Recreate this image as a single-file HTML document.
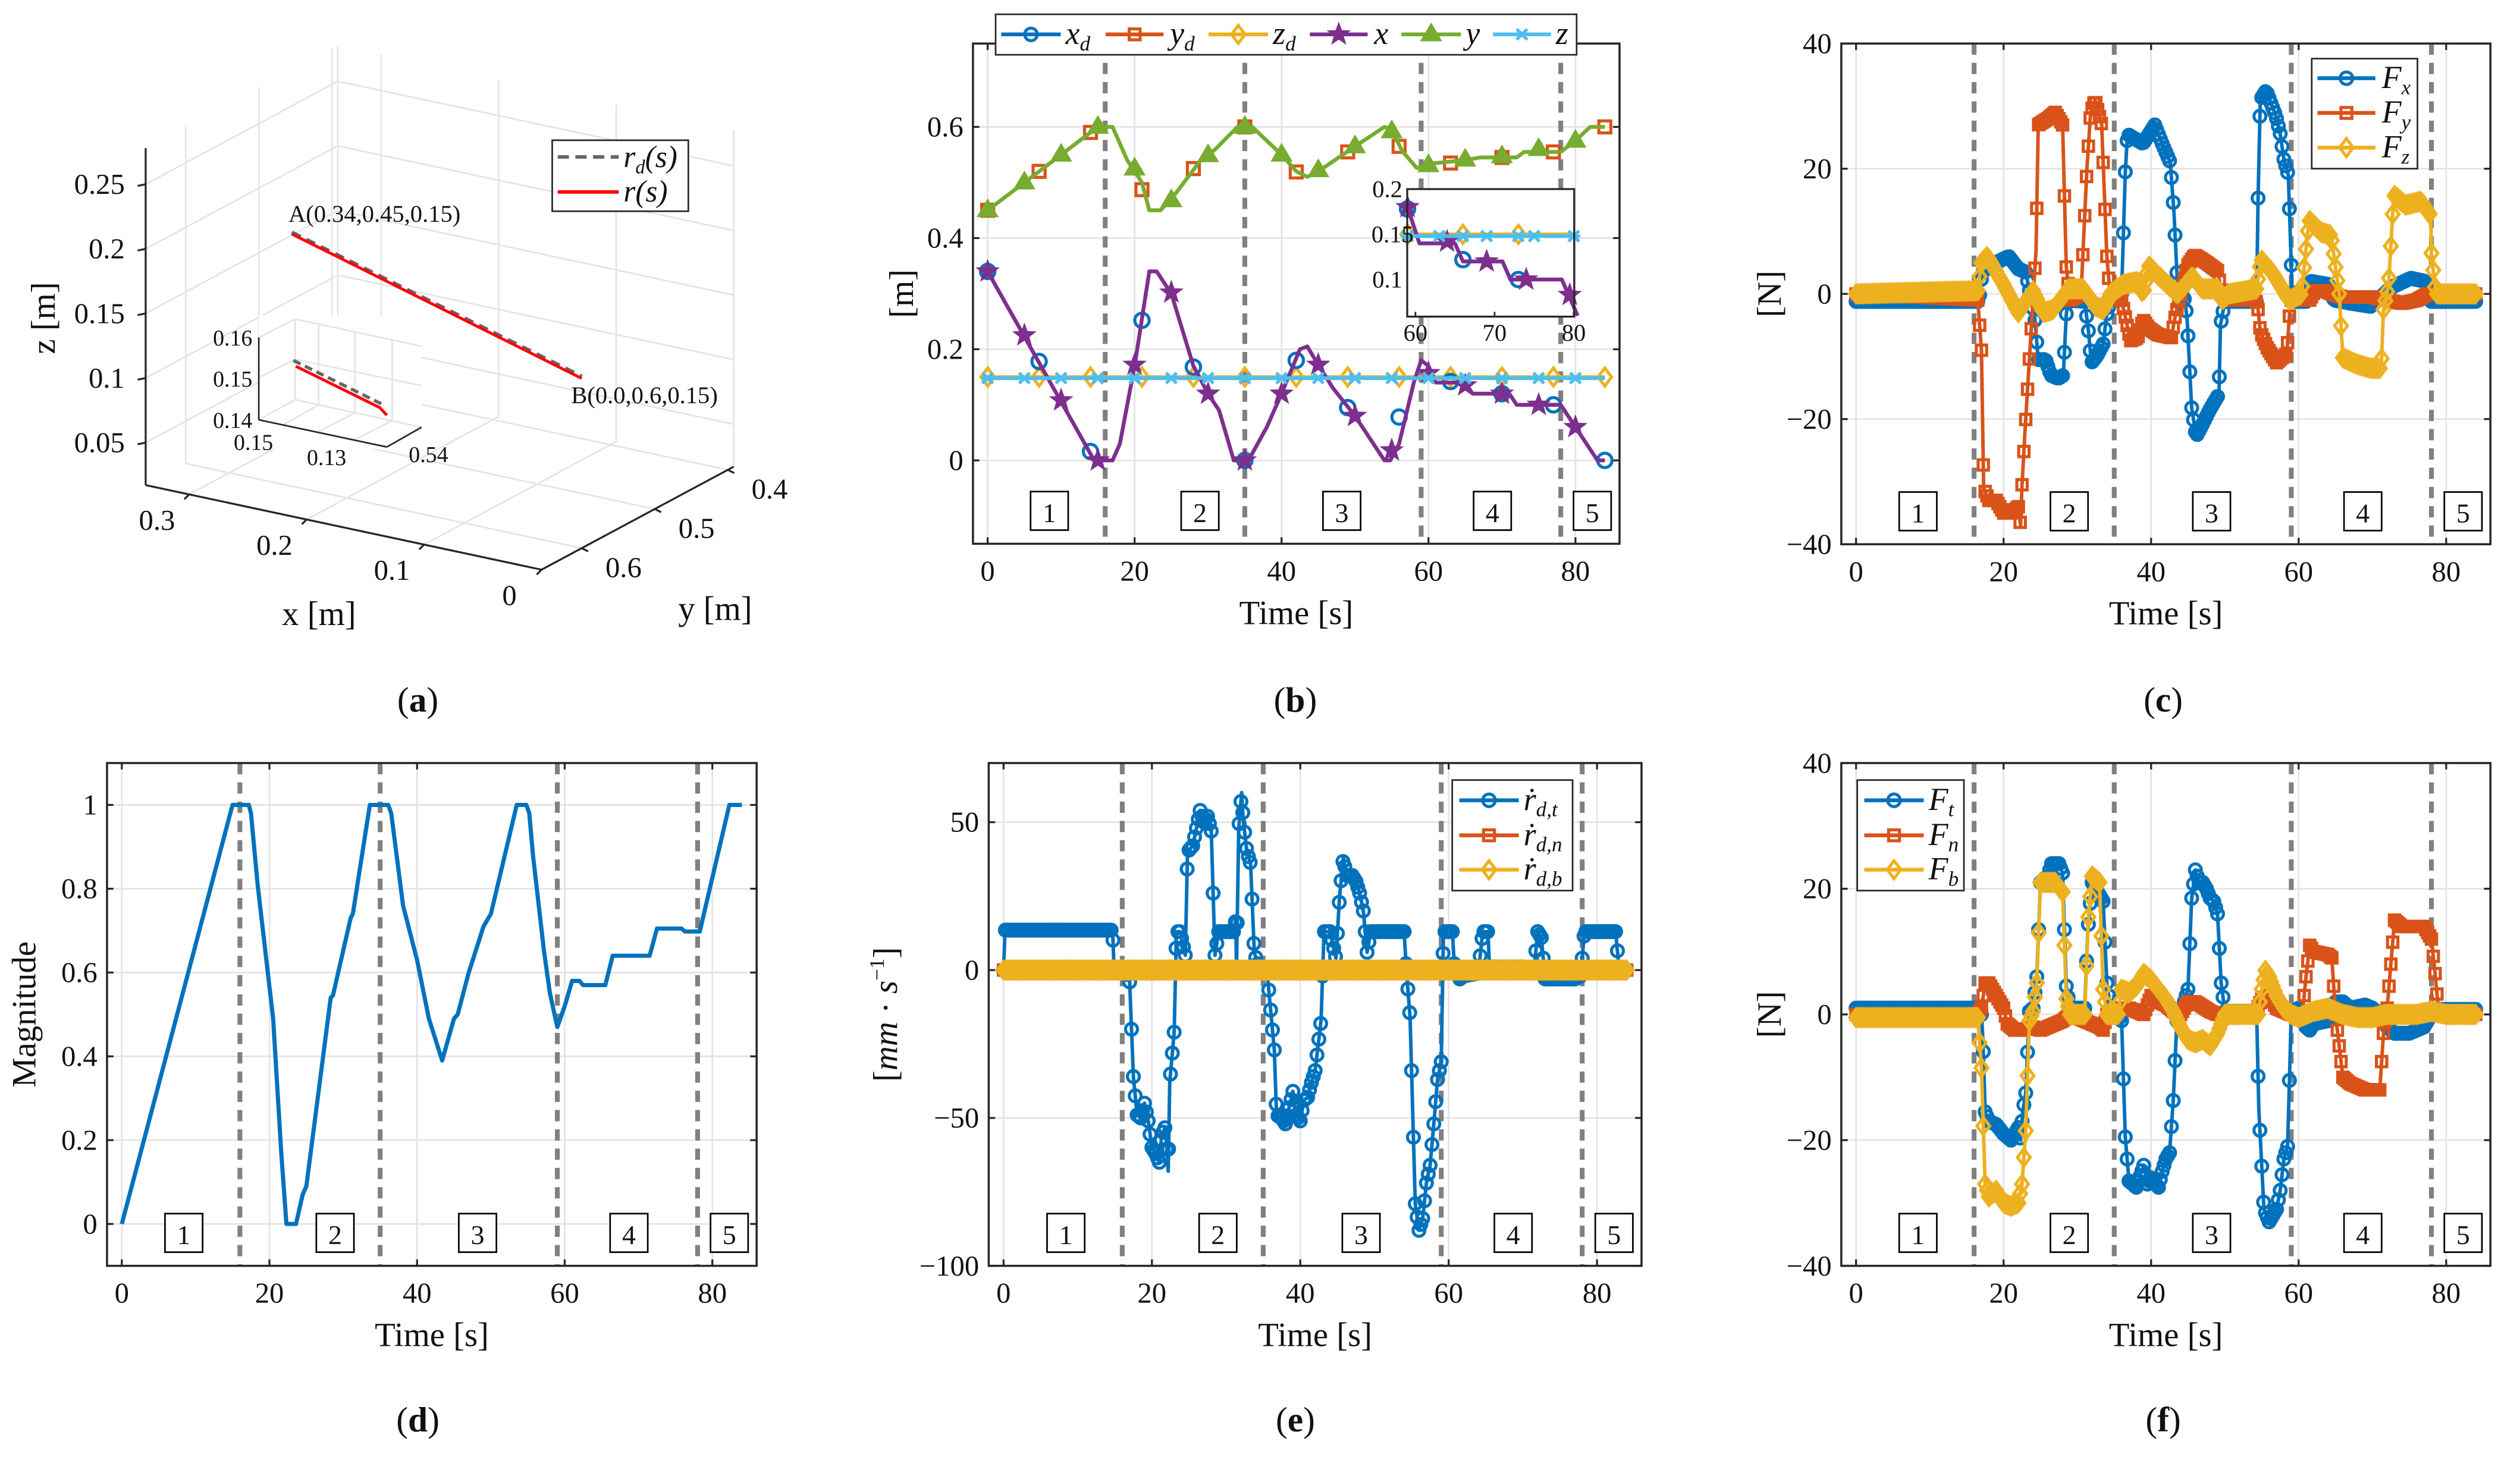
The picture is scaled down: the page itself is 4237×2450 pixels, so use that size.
<!DOCTYPE html>
<html><head><meta charset="utf-8"><title>Trajectory and force figure</title>
<style>html,body{margin:0;padding:0;background:#fff}svg{display:block}</style></head>
<body>
<svg id="fig" xmlns="http://www.w3.org/2000/svg" width="4237" height="2450" viewBox="0 0 1568 907" preserveAspectRatio="none" font-family="Liberation Serif, DejaVu Serif, serif">
<rect width="1568" height="907" fill="#fff"/>
</svg>
<script>
// ---------- data: panel b ----------
const phaseT=[16,35,59,78];
const phaseLabelT=[8.4,28.9,48.2,68.7,82.3];
const phaseLabels=['1','2','3','4','5'];
const xTicks=[0,20,40,60,80];
const bMarkT7=[0,7,14,21,28,35,42,49,56,63,70,77,84];
const xdV=[0.34,0.178,0.016,0.252,0.168,0,0.18,0.095,0.078,0.142,0.12,0.1,0];
const ydV=[0.45,0.52,0.59,0.487,0.525,0.6,0.519,0.555,0.565,0.535,0.545,0.555,0.6];
const zdV=[0.15,0.15,0.15,0.15,0.15,0.15,0.15,0.15,0.15,0.15,0.15,0.15,0.15];
const bMarkT5=[0,5,10,15,20,25,30,35,40,45,50,55,60,65,70,75,80];
const xMarkV=[0.34,0.225,0.108,0,0.172,0.302,0.12,0,0.12,0.172,0.08,0.018,0.157,0.135,0.12,0.1,0.06];
const yMarkV=[0.45,0.5,0.55,0.6,0.525,0.468,0.549,0.6,0.55,0.522,0.565,0.592,0.531,0.541,0.547,0.56,0.575];
const zMarkV=[0.148,0.148,0.148,0.148,0.148,0.148,0.148,0.148,0.148,0.148,0.148,0.148,0.148,0.148,0.148,0.148,0.148];
const xLine=[[0,0.34],[14.5,0],[17,0],[18,0.03],[20,0.17],[22,0.34],[23,0.34],[25,0.3],[28,0.17],[30,0.12],[31.5,0.09],[33.5,0],[35.5,0],[38,0.06],[40,0.12],[42.5,0.2],[43.5,0.205],[45,0.172],[47,0.13],[50,0.08],[54,0],[54.8,0],[56,0.03],[58,0.14],[59,0.18],[60,0.17],[61,0.14],[65,0.14],[66,0.12],[71,0.12],[72,0.1],[78,0.1],[80,0.06],[83,0],[84,0]];
const yLine=[[0,0.45],[15,0.6],[17,0.6],[19,0.54],[21,0.5],[22,0.45],[23.5,0.45],[25,0.47],[29,0.54],[31,0.56],[34,0.6],[36,0.6],[40,0.55],[42,0.52],[43.5,0.51],[45,0.52],[50,0.565],[54,0.6],[55,0.595],[56.4,0.557],[58.4,0.526],[59.5,0.53],[61,0.535],[65,0.54],[67,0.545],[72,0.545],[73,0.555],[78,0.555],[80,0.575],[82,0.6],[84,0.6]];
const zLine=[[0,0.148],[84,0.148]];
const zdLine=[[0,0.15],[84,0.15]];
const insetX=[[59,0.18],[60.5,0.14],[62,0.14],[65,0.14],[66,0.12],[71,0.12],[72,0.1],[78.5,0.1],[80.5,0.06]];
const insetStar=[[59,0.18],[64,0.142],[69,0.12],[74,0.1],[79.5,0.083]];
const insetXd=[[59,0.178],[66,0.122],[73,0.1]];
const insetZd=[[59,0.15],[66,0.15],[73,0.15]];
const insetZ=[[59,0.148],[63,0.148],[66,0.148],[69,0.148],[73,0.148],[75,0.148],[80,0.148]];
// ---------- panel c ----------
const fxData=[[0,-1.2],[16.5,-1.2],[16.8,0],[17.1,3.5],[19,5],[20.7,6],[22,4],[23,3.5],[24.2,-3.5],[24.7,-10.5],[25.7,-10.5],[26.4,-13],[27.4,-13.5],[28.1,-13],[28.5,-3.2],[28.8,-1],[31,-1.2],[31.5,-5.9],[31.9,-11],[32.6,-10],[33.5,-8],[34,-3.2],[34.5,-1],[35.5,-1],[36,0],[36.5,19.5],[36.8,25.5],[38.9,24],[40.5,27],[41.5,24],[42.6,21],[43.1,13],[43.6,1],[44.6,-1],[44.9,-4.4],[45.5,-18.2],[46.1,-22.8],[46.9,-21],[47.9,-18.6],[49.2,-16],[49.4,-5],[50,-1.2],[54.3,-1.2],[54.5,15.3],[54.8,31],[55.6,32.5],[56.4,30],[56.9,28.5],[57.5,25.6],[58,21.5],[58.6,19],[59.1,1],[59.5,-1.2],[61.2,-1.2],[61.7,2],[64.1,1.5],[64.8,-1],[67.1,-1.5],[69.8,-2],[72.5,1],[75.2,2.5],[77.2,2],[77.9,-1.2],[84,-1.2]];
const fyData=[[0,0],[16.5,-1],[17,-9],[17.3,-31],[18,-33],[19,-33],[20,-35],[21,-35],[22,-34],[22.3,-37],[22.5,-30.5],[22.9,-22],[24.4,7],[24.7,27],[26,28],[27,29],[28,27],[28.5,4.3],[29,-1],[30.5,0],[31.3,20],[31.8,29],[32.4,31],[33.3,27],[34,6],[34.5,-1],[36,-1],[36.6,-4.2],[37.2,-7.5],[38.2,-7],[38.9,-4.1],[39.7,-5.5],[40.9,-6.5],[42.8,-7],[43.1,-4.5],[44.9,4.5],[45.9,6.2],[47.5,5],[49,3.7],[49.6,0],[50.5,-1],[54.2,-1],[54.5,-2.5],[54.8,-6],[55.7,-8.5],[57,-11],[58.4,-9.5],[58.9,-1],[60.5,-1],[61.5,-1],[62.2,0.5],[63.5,0.5],[64.5,0],[66,-0.5],[70,-0.5],[72,-1],[74,-1.5],[76,-1],[77.5,0],[84,0]];
const fzData=[[0,0],[16.5,0.5],[17,5],[17.8,6],[20,1.5],[22,-3],[24,0.5],[25.4,-3],[26.7,-2.5],[28.8,0.8],[30.8,0.8],[32.5,-2],[33.5,-2.5],[34.5,0],[36.2,1.5],[38.2,2],[38.9,0],[39.7,4.5],[40.9,3],[43.6,0],[45.6,2.8],[46.9,0.8],[49,0.8],[49.6,-1],[50.5,0],[54.3,0.8],[54.9,5.5],[56.4,3.5],[58.7,-1],[60.4,0],[60.9,6],[61.4,11.8],[63.1,9.8],[64.4,9.4],[65.5,0],[66,-10.2],[67.8,-11.2],[69.8,-11.9],[71.2,-11.9],[71.5,-2.5],[72.2,1.5],[72.9,15.8],[74.5,14.2],[76.6,14.8],[77.9,12.5],[78,6.5],[78.6,0],[84,0]];
// ---------- panel d ----------
const magData=[[0,0],[15,1],[17.2,1],[17.5,0.98],[18.4,0.81],[20.5,0.49],[21.6,0.17],[22.3,0],[23.6,0],[24.5,0.07],[25,0.09],[28.3,0.54],[28.6,0.545],[31,0.73],[31.3,0.74],[33.6,1],[36.1,1],[36.5,0.98],[38.1,0.76],[40,0.63],[41.6,0.49],[43.4,0.39],[45,0.49],[45.5,0.5],[47,0.6],[49,0.71],[50,0.74],[53.5,1],[54.8,1],[55.2,0.98],[55.7,0.88],[57.2,0.65],[58,0.55],[59,0.47],[60,0.52],[61,0.58],[62,0.58],[62.5,0.57],[65.5,0.57],[66.5,0.64],[71.5,0.64],[72.5,0.705],[75.8,0.705],[76.3,0.698],[78.3,0.698],[82.3,1],[84,1]];
// ---------- panel e ----------
const rdtData=[[0,0],[0.2,13.5],[14.7,13.5],[14.9,0],[16.6,0],[17,-4],[17.5,-36],[18,-49],[18.5,-50],[19,-45],[19.5,-51],[20,-60],[20.5,-62],[21,-65],[21.3,-56],[21.8,-53],[22.2,-68],[22.4,-38],[23,-21],[23.3,13],[23.8,13],[24.5,5],[24.8,40],[25.5,42],[26,48],[26.5,54],[27,50],[27.5,52],[28,47],[28.5,5],[29,13],[31,13],[31.3,17],[31.4,0],[31.7,48],[32.1,60],[32.3,51],[32.8,40],[33.3,36],[33.8,6],[34.5,0],[35.5,0],[36.5,-27],[36.8,-49],[37.5,-50],[38,-52],[39,-41],[39.3,-48],[40,-51],[40.5,-44],[41,-43],[41.5,-38],[42,-34],[42.8,-17],[43.2,13],[44,13],[44.8,4],[45.3,25],[45.8,38],[46.2,32],[47,32],[47.5,30],[48,26],[48.5,20],[49,6],[49.5,13],[54,13],[54.3,0],[54.8,-16],[55.5,-79],[56,-88],[56.5,-84],[57,-72],[57.5,-66],[58,-52],[58.5,-37],[59,-31],[59.3,13],[60.5,13],[60.8,0],[61.5,-3],[62,-2],[64,-1],[64.6,13],[65.3,13],[65.5,1],[70,1],[71.5,0],[72,13],[72.5,11],[73,-3],[77,-3],[77.8,-2],[78.3,13],[82.5,13],[83,0],[84,0]];
const rdnData=[[0,0],[84,0]];
const rdbData=[[0,0],[84,0]];
// ---------- panel f ----------
const ftData=[[0,1],[16.5,1],[17,0],[17.2,-4],[17.5,-15.5],[18,-17],[19,-17.5],[20,-19],[21,-20],[21.5,-19],[22,-18],[22.3,-20],[22.6,-15.5],[23,-12.5],[23.5,0.5],[24,1],[24.5,6],[25,21],[26,22],[26.5,24],[27.5,24],[28,22.5],[28.5,4.5],[29,1],[31,1],[31.4,13],[32,21],[33,19],[33.5,18],[34,5],[34.5,1],[35.5,0],[36,-1],[36.5,-19.5],[37,-26.5],[38,-27.5],[39,-24],[39.5,-27],[40,-26],[41,-27.5],[41.5,-25],[42,-23],[42.5,-22],[43,-13.7],[43.5,-1],[44,0],[45,4],[45.5,18.5],[46,23],[46.5,21],[47,21],[47.5,20],[48,18.5],[48.5,18],[49,16],[49.5,5],[50,0.5],[54.3,0.5],[54.6,-15],[55.3,-31],[56,-33],[56.5,-32],[57,-31],[57.5,-28],[58,-23],[58.5,-21],[59,0],[60,1],[61,-2],[61.5,-2.5],[62,-1.5],[64,-1],[65,2],[66,2],[67,1],[69,1.5],[70,1],[71,0],[72,-2],[73,-3],[75,-3],[77,-2],[78,0],[79,0.8],[84,0.8]];
const fnData=[[0,0],[16.5,0],[17,1],[17.5,5],[18,5],[19,3],[20,1],[20.5,-1.5],[21.5,-2.5],[22.5,-2.5],[24,-2],[25,-2.5],[26,-2],[27,-1.5],[28,-1],[29,0],[31,-1],[32,-1.5],[33,-2],[33.5,-2.5],[34,0],[36,1],[37,1],[38,0.5],[39,0],[40,3],[41,2],[42,1.5],[43,0.5],[44,0],[45,2],[46,2],[48,0.5],[49,0],[54,0],[55,2.5],[56,3],[57,1],[58,0.5],[59,0],[60.5,0],[61,6],[61.5,11],[62,10],[64,9.5],[64.5,9],[65,0],[66,-10],[67,-11],[69,-12],[71,-12],[71.5,-3],[72,1],[73,15],[74,14],[77,14],[78,12],[78.5,6.5],[79,0],[84,0]];
const fbData=[[0,-0.5],[16.5,-0.5],[17,-8.5],[17.5,-27],[18,-29],[19,-28],[20,-30],[21,-30.5],[22,-30],[22.5,-27],[23,-18.5],[23.5,-1],[24,0.5],[24.5,5],[25,21],[26,21],[27,21],[28,19.5],[28.5,2.5],[29,0],[31,0],[31.5,15.5],[32,22],[33,21],[33.5,4],[34,0],[35.5,0],[36,4],[37,3.5],[38,4.5],[39,6.5],[40,5.5],[41,4],[42,2.5],[43,0.5],[44,-2],[45,-4],[46,-4.5],[47,-4],[48,-5],[49,-3],[50,0],[54.5,0],[55,4],[55.5,7],[56,6],[57,3],[58,1],[59,0],[60,-0.5],[62,0.5],[64,1],[66,0],[68,-0.5],[70,-0.5],[72,0],[76,0],[78,0.5],[80,0],[84,0]];
// ---------- panel a (3D) ----------
const pointA=[0.34,0.45,0.15];
const pointB=[0.0,0.6,0.15];
const aXTicks=[0.3,0.2,0.1,0];
const aYTicks=[0.6,0.5,0.4];
const aZTicks=[0.05,0.1,0.15,0.2,0.25];
const aZTickLabels=['0.05','0.1','0.15','0.2','0.25'];
const insetRd=[[0.1442,0.1562],[0.1158,0.150]];
const insetR=[[0.1434,0.1549],[0.1172,0.1492],[0.115,0.1477]];

// ---------- helpers ----------
const NS='http://www.w3.org/2000/svg';
const svg=document.getElementById('fig');
const C={blue:'#0072BD',red:'#D95319',yel:'#EDB120',pur:'#7E2F8E',grn:'#77AC30',cyan:'#4DBEEE',ax:'#262626',grid:'#e3e3e3',dash:'#808080'};
function mk(tag,attrs,parent){const e=document.createElementNS(NS,tag);for(const k in attrs)e.setAttribute(k,attrs[k]);(parent||svg).appendChild(e);return e;}
function nm(e,n,inter){
  
  
  return e;
}
function txt(s,x,y,size,anchor,parent,extra){const t=mk('text',Object.assign({x:x,y:y,'font-size':size,'text-anchor':anchor||'middle',fill:'#111'},extra||{}),parent);t.innerHTML=s;return t;}
function lin(d0,d1,r0,r1){return v=>r0+(v-d0)*(r1-r0)/(d1-d0);}
function interp(D,t){for(let i=0;i<D.length-1;i++){if(t>=D[i][0]&&t<=D[i+1][0]){const a=D[i],b=D[i+1];return b[0]===a[0]?a[1]:a[1]+(b[1]-a[1])*(t-a[0])/(b[0]-a[0]);}}return D[D.length-1][1];}
const MW=1.9;
function marker(g,type,x,y,col,s){
  s=s||1;let e;
  if(type==='o')e=mk('circle',{cx:x,cy:y,r:3.9*s,fill:'none',stroke:col,'stroke-width':MW},g);
  else if(type==='s')e=mk('rect',{x:x-3.4*s,y:y-3.4*s,width:6.8*s,height:6.8*s,fill:'none',stroke:col,'stroke-width':MW},g);
  else if(type==='d')e=mk('path',{d:`M${x},${y-5.6*s}L${x+4.2*s},${y}L${x},${y+5.6*s}L${x-4.2*s},${y}Z`,fill:'none',stroke:col,'stroke-width':MW},g);
  else if(type==='^')e=mk('path',{d:`M${x},${y-6.4*s}L${x+6*s},${y+3.8*s}L${x-6*s},${y+3.8*s}Z`,fill:col,stroke:col,'stroke-width':1},g);
  else if(type==='p'){let d='';for(let i=0;i<10;i++){const r=i%2?2.8*s:6.8*s,a=-Math.PI/2+i*Math.PI/5;d+=(i?'L':'M')+(x+r*Math.cos(a)).toFixed(2)+','+(y+r*Math.sin(a)).toFixed(2);}e=mk('path',{d:d+'Z',fill:col,stroke:col,'stroke-width':0.8},g);}
  else if(type==='x'){const r=3.3*s;e=mk('path',{d:`M${x-r},${y-r}L${x+r},${y+r}M${x-r},${y+r}L${x+r},${y-r}M${x-r*1.2},${y}L${x+r*1.2},${y}`,stroke:col,'stroke-width':2,fill:'none'},g);}
  return e;
}
function line(g,D,sx,sy,col,w){return mk('polyline',{points:D.map(p=>sx(p[0]).toFixed(2)+','+sy(p[1]).toFixed(2)).join(' '),fill:'none',stroke:col,'stroke-width':w||2.2,'stroke-linejoin':'round'},g);}

function axes(id,P){
  const g=nm(mk('g',{}),id+'-panel');
  const sx=lin(P.xlim[0],P.xlim[1],P.x0,P.x1), sy=lin(P.ylim[0],P.ylim[1],P.y1,P.y0);
  const gg=nm(mk('g',{stroke:C.grid,'stroke-width':1},g),id+'-grid');
  xTicks.forEach(t=>{const l=mk('line',{x1:sx(t),x2:sx(t),y1:P.y0,y2:P.y1},gg);nm(l,id+'-x-gridline');});
  P.yticks.forEach(v=>{const l=mk('line',{x1:P.x0,x2:P.x1,y1:sy(v),y2:sy(v)},gg);nm(l,id+'-y-gridline');});
  const tk=nm(mk('g',{stroke:C.ax,'stroke-width':1.2},g),id+'-ticks');
  xTicks.forEach(t=>{mk('line',{x1:sx(t),x2:sx(t),y1:P.y1,y2:P.y1-4},tk);mk('line',{x1:sx(t),x2:sx(t),y1:P.y0,y2:P.y0+4},tk);
    const l=txt(String(t),sx(t),P.y1+23,18,'middle',g);nm(l,id+'-x-tick-label');});
  P.yticks.forEach((v,i)=>{mk('line',{x1:P.x0,x2:P.x0+4,y1:sy(v),y2:sy(v)},tk);mk('line',{x1:P.x1,x2:P.x1-4,y1:sy(v),y2:sy(v)},tk);
    const l=txt(P.ylabels[i],P.x0-6,sy(v)+6,18,'end',g);nm(l,id+'-y-tick-label');});
  const xl=txt('Time [s]',(P.x0+P.x1)/2,P.y1+50,21,'middle',g);nm(xl,id+'-x-axis-title');
  const yl=txt(P.ytitle,P.ylx,(P.y0+P.y1)/2,21,'middle',g,{transform:`rotate(-90 ${P.ylx} ${(P.y0+P.y1)/2})`});nm(yl,id+'-y-axis-title');
  const dg=nm(mk('g',{stroke:C.dash,'stroke-width':3,'stroke-dasharray':'7,5'},g),id+'-phase-dividers');
  phaseT.forEach(t=>{const l=mk('line',{x1:sx(t),x2:sx(t),y1:P.y0,y2:P.y1},dg);nm(l,id+'-phase-divider');});
  phaseLabelT.forEach((t,i)=>{const r=mk('rect',{x:sx(t)-11.7,y:P.y1-32.5,width:23.4,height:24,fill:'#fff',stroke:'#000','stroke-width':1},g);nm(r,id+'-phase-box');
    const l=txt(phaseLabels[i],sx(t),P.y1-13.5,17,'middle',g);nm(l,id+'-phase-label');});
  const cap=txt(`(<tspan font-weight="bold">${P.cap}</tspan>)`,P.capx,P.capy,22,'middle',g);nm(cap,id+'-caption');
  const series=nm(mk('g',{},g),id+'-series');
  const box=mk('rect',{x:P.x0,y:P.y0,width:P.x1-P.x0,height:P.y1-P.y0,fill:'none',stroke:C.ax,'stroke-width':1.3},g);nm(box,id+'-axes-box');
  return {g,sx,sy,series};
}
function denseSeries(A,D,type,col,name,step){
  const g=nm(mk('g',{},A.series),name);
  line(g,D,A.sx,A.sy,col,2.2);
  for(let t=D[0][0];t<=D[D.length-1][0]+1e-9;t+=step){marker(g,type,A.sx(t),A.sy(interp(D,t)),col,0.95);}
}
function legend(P,items,id){
  const g=nm(mk('g',{},svg),id+'-legend');
  const r=mk('rect',{x:P.x,y:P.y,width:P.w,height:P.h,fill:'#fff',stroke:C.ax,'stroke-width':1},g);nm(r,id+'-legend-box');
  items.forEach(it=>{const e=nm(mk('g',{},g),id+'-legend-entry');
    mk('line',{x1:it.lx1,x2:it.lx2,y1:it.y,y2:it.y,stroke:it.col,'stroke-width':2.4},e);
    marker(e,it.m,(it.lx1+it.lx2)/2,it.y,it.col,1);
    txt(it.label,it.tx,it.y+6,20,'start',e,{'font-style':'italic'});});
}

// ---------- panel b ----------
const Ab=axes('b',{x0:605.4,x1:1007.7,y0:27.1,y1:338.5,xlim:[-2,86],ylim:[-0.15,0.75],yticks:[0,0.2,0.4,0.6],ylabels:['0','0.2','0.4','0.6'],ytitle:'[m]',ylx:568,cap:'b',capx:806,capy:443});
{const g=nm(mk('g',{},Ab.series),'zd-series');line(g,zdLine,Ab.sx,Ab.sy,C.yel,2.2);bMarkT7.forEach((t,i)=>marker(g,'d',Ab.sx(t),Ab.sy(zdV[i]),C.yel));}
{const g=nm(mk('g',{},Ab.series),'xd-series');bMarkT7.forEach((t,i)=>marker(g,'o',Ab.sx(t),Ab.sy(xdV[i]),C.blue,1.15));}
{const g=nm(mk('g',{},Ab.series),'yd-series');bMarkT7.forEach((t,i)=>marker(g,'s',Ab.sx(t),Ab.sy(ydV[i]),C.red,1.1));}
{const g=nm(mk('g',{},Ab.series),'x-series');line(g,xLine,Ab.sx,Ab.sy,C.pur,2.4);bMarkT5.forEach((t,i)=>marker(g,'p',Ab.sx(t),Ab.sy(xMarkV[i]),C.pur));}
{const g=nm(mk('g',{},Ab.series),'y-series');line(g,yLine,Ab.sx,Ab.sy,C.grn,2.4);bMarkT5.forEach((t,i)=>marker(g,'^',Ab.sx(t),Ab.sy(yMarkV[i]),C.grn));}
{const g=nm(mk('g',{},Ab.series),'z-series');line(g,zLine,Ab.sx,Ab.sy,C.cyan,2.4);bMarkT5.forEach((t,i)=>marker(g,'x',Ab.sx(t),Ab.sy(zMarkV[i]),C.cyan));}
// inset b
{const g=nm(mk('g',{},svg),'b-inset');
 const I={x0:875.6,x1:979.5,y0:117.7,y1:197.1};
 const sx=lin(58.96,80.06,I.x0,I.x1), sy=lin(0.059,0.2,I.y1,I.y0);
 const bg=mk('rect',{x:I.x0,y:I.y0,width:I.x1-I.x0,height:I.y1-I.y0,fill:'#fff'},g);nm(bg,'b-inset-background');
 const s=nm(mk('g',{},g),'b-inset-series');
 line(s,[[59,0.15],[80,0.15]],sx,sy,C.yel,2.2);insetZd.forEach(p=>marker(s,'d',sx(p[0]),sy(p[1]),C.yel));
 insetXd.forEach(p=>marker(s,'o',sx(p[0]),sy(p[1]),C.blue,1.15));
 line(s,insetX,sx,sy,C.pur,2.4);insetStar.forEach(p=>marker(s,'p',sx(p[0]),sy(p[1]),C.pur));
 line(s,[[59,0.148],[80,0.148]],sx,sy,C.cyan,2.4);insetZ.forEach(p=>marker(s,'x',sx(p[0]),sy(p[1]),C.cyan));
 const cl=mk('rect',{x:I.x0,y:I.y0,width:I.x1-I.x0,height:I.y1-I.y0,fill:'none',stroke:C.ax,'stroke-width':1.2},g);nm(cl,'b-inset-box');
 [60,70,80].forEach(t=>{const l=txt(String(t),sx(t),I.y1+15,15,'middle',g);nm(l,'b-inset-x-tick-label');mk('line',{x1:sx(t),x2:sx(t),y1:I.y1,y2:I.y1-3,stroke:C.ax},g);});
 [[0.2,'0.2'],[0.15,'0.15'],[0.1,'0.1']].forEach(p=>{const l=txt(p[1],I.x0+(p[0]===0.15?4:-3),sy(p[0])+5,15,'end',g);nm(l,'b-inset-y-tick-label');});
}
legend({x:619.5,y:8.9,w:361.5,h:25.2},[
 {lx1:623,lx2:660,y:21.4,col:C.blue,m:'o',tx:663,label:'x<tspan font-size="13" dy="4">d</tspan>'},
 {lx1:688,lx2:724,y:21.4,col:C.red,m:'s',tx:728,label:'y<tspan font-size="13" dy="4">d</tspan>'},
 {lx1:752,lx2:789,y:21.4,col:C.yel,m:'d',tx:792,label:'z<tspan font-size="13" dy="4">d</tspan>'},
 {lx1:815,lx2:851,y:21.4,col:C.pur,m:'p',tx:855,label:'x'},
 {lx1:872,lx2:909,y:21.4,col:C.grn,m:'^',tx:912,label:'y'},
 {lx1:929,lx2:965,y:21.4,col:C.cyan,m:'x',tx:968,label:'z'}],'b');

// ---------- panel c ----------
const Ac=axes('c',{x0:1145.7,x1:1549.6,y0:27.1,y1:338.8,xlim:[-2,86],ylim:[-40,40],yticks:[-40,-20,0,20,40],ylabels:['−40','−20','0','20','40'],ytitle:'[N]',ylx:1108,cap:'c',capx:1346,capy:443});
denseSeries(Ac,fxData,'o',C.blue,'fx-series',0.25);
denseSeries(Ac,fyData,'s',C.red,'fy-series',0.25);
denseSeries(Ac,fzData,'d',C.yel,'fz-series',0.25);
legend({x:1438.4,y:36.5,w:65.8,h:68.5},[
 {lx1:1442,lx2:1478,y:48.7,col:C.blue,m:'o',tx:1482,label:'F<tspan font-size="13" dy="4">x</tspan>'},
 {lx1:1442,lx2:1478,y:70.3,col:C.red,m:'s',tx:1482,label:'F<tspan font-size="13" dy="4">y</tspan>'},
 {lx1:1442,lx2:1478,y:91.9,col:C.yel,m:'d',tx:1482,label:'F<tspan font-size="13" dy="4">z</tspan>'}],'c');

// ---------- panel d ----------
const Ad=axes('d',{x0:66.6,x1:470.8,y0:475,y1:788,xlim:[-2,86],ylim:[-0.1,1.1],yticks:[0,0.2,0.4,0.6,0.8,1],ylabels:['0','0.2','0.4','0.6','0.8','1'],ytitle:'Magnitude',ylx:22,cap:'d',capx:260,capy:891});
{const g=nm(mk('g',{},Ad.series),'magnitude-series');line(g,magData,Ad.sx,Ad.sy,C.blue,2.6);}

// ---------- panel e ----------
const Ae=axes('e',{x0:615.2,x1:1021.4,y0:475,y1:788,xlim:[-2,86],ylim:[-100,70],yticks:[-100,-50,0,50],ylabels:['−100','−50','0','50'],ytitle:'[<tspan font-style="italic">mm</tspan> · <tspan font-style="italic">s</tspan><tspan font-size="13" dy="-8">−1</tspan><tspan dy="8">]</tspan>',ylx:558,cap:'e',capx:806,capy:891});
denseSeries(Ae,rdtData,'o',C.blue,'rdt-series',0.25);
denseSeries(Ae,rdnData,'s',C.red,'rdn-series',0.25);
denseSeries(Ae,rdbData,'d',C.yel,'rdb-series',0.25);
legend({x:903.6,y:485.6,w:74.9,h:68.8},[
 {lx1:908,lx2:945,y:498.2,col:C.blue,m:'o',tx:948,label:'ṙ<tspan font-size="13" dy="4">d,t</tspan>'},
 {lx1:908,lx2:945,y:520,col:C.red,m:'s',tx:948,label:'ṙ<tspan font-size="13" dy="4">d,n</tspan>'},
 {lx1:908,lx2:945,y:541.4,col:C.yel,m:'d',tx:948,label:'ṙ<tspan font-size="13" dy="4">d,b</tspan>'}],'e');

// ---------- panel f ----------
const Af=axes('f',{x0:1145.7,x1:1549.6,y0:475,y1:788,xlim:[-2,86],ylim:[-40,40],yticks:[-40,-20,0,20,40],ylabels:['−40','−20','0','20','40'],ytitle:'[N]',ylx:1108,cap:'f',capx:1346,capy:891});
denseSeries(Af,ftData,'o',C.blue,'ft-series',0.25);
denseSeries(Af,fnData,'s',C.red,'fn-series',0.25);
denseSeries(Af,fbData,'d',C.yel,'fb-series',0.25);
legend({x:1155.6,y:485.6,w:66.4,h:68.8},[
 {lx1:1160,lx2:1197,y:498.2,col:C.blue,m:'o',tx:1200,label:'F<tspan font-size="13" dy="4">t</tspan>'},
 {lx1:1160,lx2:1197,y:520,col:C.red,m:'s',tx:1200,label:'F<tspan font-size="13" dy="4">n</tspan>'},
 {lx1:1160,lx2:1197,y:541.4,col:C.yel,m:'d',tx:1200,label:'F<tspan font-size="13" dy="4">b</tspan>'}],'f');

// ---------- panel a (3D) ----------
{
 const g=nm(mk('g',{},svg),'a-panel');
 const T=(x,y)=>[x*0.332,y*0.2728];
 const xmax=0.337,ymin=0.392,ymax=0.655,zmin=0.0171,zmax=0.278;
 const P1=[1015,1300],EX=[-742,-193],EY=[360,-235],EZ=[0,-769];
 function proj(x,y,z){const a=x/xmax,b=(ymax-y)/(ymax-ymin),c=(z-zmin)/(zmax-zmin);return T(P1[0]+a*EX[0]+b*EY[0]+c*EZ[0],P1[1]+a*EX[1]+b*EY[1]+c*EZ[1]);}
 function seg(p,q,attrs,parent){return mk('line',Object.assign({x1:p[0],y1:p[1],x2:q[0],y2:q[1]},attrs),parent);}
 const gg=nm(mk('g',{stroke:'#e4e4e4','stroke-width':1},g),'a-grid');
 aYTicks.forEach(y=>{seg(proj(xmax,y,zmin),proj(xmax,y,zmax),{},gg);seg(proj(0,y,zmin),proj(xmax,y,zmin),{},gg);});
 aXTicks.forEach(x=>{seg(proj(x,ymin,zmin),proj(x,ymin,zmax),{},gg);seg(proj(x,ymax,zmin),proj(x,ymin,zmin),{},gg);});
 aZTicks.forEach(z=>{seg(proj(xmax,ymax,z),proj(xmax,ymin,z),{},gg);seg(proj(xmax,ymin,z),proj(0,ymin,z),{},gg);});
 seg(proj(xmax,ymin,zmin),proj(xmax,ymin,zmax),{},gg);
 const ax=nm(mk('g',{stroke:C.ax,'stroke-width':1.2},g),'a-axes');
 seg(proj(xmax,ymax,zmin),proj(xmax,ymax,zmax),{},ax);
 seg(proj(xmax,ymax,zmin),proj(0,ymax,zmin),{},ax);
 seg(proj(0,ymax,zmin),proj(0,ymin,zmin),{},ax);
 aZTicks.forEach((z,i)=>{const p=proj(xmax,ymax,z);seg(p,[p[0]-5,p[1]+1],{},ax);const l=txt(aZTickLabels[i],p[0]-13,p[1]+6,18,'end',g);nm(l,'a-z-tick-label');});
 aXTicks.forEach(x=>{const p=proj(x,ymax,zmin);seg(p,[p[0]-3,p[1]+3],{},ax);const l=txt(String(x),p[0]-20,p[1]+22,18,'middle',g);nm(l,'a-x-tick-label');});
 aYTicks.forEach(y=>{const p=proj(0,y,zmin);seg(p,[p[0]+4,p[1]+2],{},ax);const l=txt(String(y),p[0]+26,p[1]+18,18,'middle',g);nm(l,'a-y-tick-label');});
 nm(txt('x [m]',198.5,389,21,'middle',g),'a-x-axis-title');
 nm(txt('y [m]',445,386,21,'middle',g),'a-y-axis-title');
 nm(txt('z [m]',34,198,21,'middle',g,{transform:'rotate(-90 34 198)'}),'a-z-axis-title');
 const pa=proj(...pointA),pb=proj(...pointB);
 nm(seg(pa,pb,{stroke:'#666','stroke-width':2.4,'stroke-dasharray':'6,4'},g),'a-desired-path');
 nm(seg([pa[0],pa[1]+1],[pb[0],pb[1]+1.2],{stroke:'#ff0000','stroke-width':1.8},g),'a-actual-path');
 nm(txt('A(0.34,0.45,0.15)',233,138,15,'middle',g),'a-point-a-label');
 nm(txt('B(0.0,0.6,0.15)',401,251,15,'middle',g),'a-point-b-label');
 const lg=nm(mk('g',{},g),'a-legend');
 mk('rect',{x:343.6,y:87.3,width:84.7,height:44.2,fill:'#fff',stroke:C.ax,'stroke-width':1},lg);
 const e1=nm(mk('g',{},lg),'a-legend-entry');mk('line',{x1:347,x2:385,y1:97.7,y2:97.7,stroke:'#666','stroke-width':2.2,'stroke-dasharray':'7,4'},e1);txt('r<tspan font-size="12" dy="4">d</tspan><tspan dy="-4">(s)</tspan>',388,104,19,'start',e1,{'font-style':'italic'});
 const e2=nm(mk('g',{},lg),'a-legend-entry');mk('line',{x1:347,x2:385,y1:119.5,y2:119.5,stroke:'#ff0000','stroke-width':2.2},e2);txt('r(s)',388,125.5,19,'start',e2,{'font-style':'italic'});
 const ig=nm(mk('g',{},g),'a-inset');
 const Q=[485,958],IX=[240,62],IZ=[0,-188];
 const ip=(x,z)=>{const a=(0.155-x)/0.04,c=(z-0.14)/0.02;return T(Q[0]+a*IX[0]+c*IZ[0],Q[1]+a*IX[1]+c*IZ[1]);};
 mk('rect',{x:T(485,0)[0],y:T(0,720)[1],width:T(305,0)[0],height:T(0,305)[1],fill:'#fff'},ig);
 const igg=nm(mk('g',{stroke:'#e4e4e4','stroke-width':1},ig),'a-inset-grid');
 [[553,728,790,790],[553,820,790,880],[553,912,790,975],[485,958,553,912],[485,862,553,820],[485,770,553,728],[553,728,553,912],[597,740,597,924],[665,758,665,942],[735,776,735,960],[530,970,597,924],[597,985,665,942],[665,1003,735,960]].forEach(s=>{seg(T(s[0],s[1]),T(s[2],s[3]),{},igg);});
 const iax=nm(mk('g',{stroke:C.ax,'stroke-width':1},ig),'a-inset-axes');
 seg(T(485,770),T(485,958),{},iax);seg(T(485,958),T(725,1020),{},iax);seg(T(725,1020),T(790,975),{},iax);
 [[0.16,'0.16'],[0.15,'0.15'],[0.14,'0.14']].forEach(p=>{const q=ip(0.155,p[0]);const l=txt(p[1],q[0]-4,q[1]+5,14,'end',ig);nm(l,'a-inset-z-tick-label');});
 nm(txt('0.15',157.7,280,14,'middle',ig),'a-inset-x-tick-label');
 nm(txt('0.13',203.2,289.5,14,'middle',ig),'a-inset-x-tick-label');
 nm(txt('0.54',266.6,287.6,14,'middle',ig),'a-inset-y-tick-label');
 nm(mk('polyline',{points:insetRd.map(p=>ip(p[0],p[1]).join(',')).join(' '),fill:'none',stroke:'#666','stroke-width':2,'stroke-dasharray':'5,3'},ig),'a-inset-desired-path');
 nm(mk('polyline',{points:insetR.map(p=>ip(p[0],p[1]).join(',')).join(' '),fill:'none',stroke:'#ff0000','stroke-width':1.8},ig),'a-inset-actual-path');
 nm(txt('(<tspan font-weight="bold">a</tspan>)',260,443,22,'middle',g),'a-caption');
}
</script>
</body></html>
